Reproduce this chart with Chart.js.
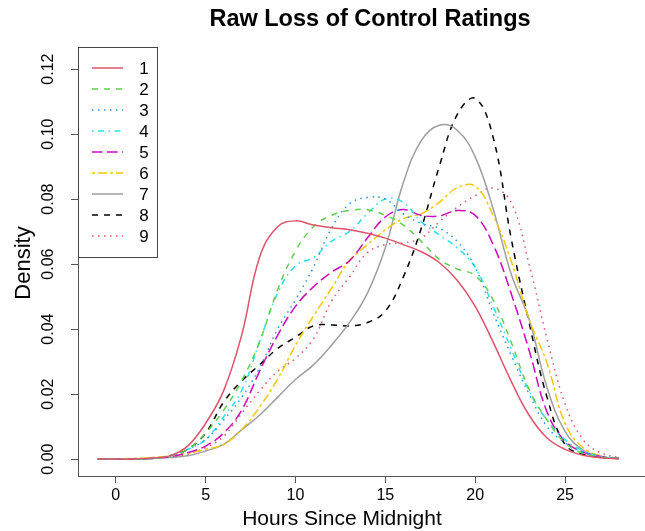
<!DOCTYPE html>
<html>
<head>
<meta charset="utf-8">
<script src="https://cdn.jsdelivr.net/npm/chart.js@4.4.1/dist/chart.umd.min.js"></script>
<style>
  body { margin: 0; background: #fff; }
  #wrap { width: 645px; height: 531px; }
</style>
</head>
<body>
<div id="wrap"><canvas id="myChart" width="645" height="531"></canvas></div>
<script>
// data (density by hour)
const hours = [-1, 0, 1, 2, 3, 4, 5, 6, 7, 8, 9, 10, 11, 12, 13, 14, 15, 16, 17, 18, 19, 20, 21, 22, 23, 24, 25, 26, 27, 28];
const s1 = [0, 0, 0, 0.0003, 0.001, 0.004, 0.011, 0.021, 0.038, 0.062, 0.0715, 0.0733, 0.072, 0.0712, 0.0706, 0.0695, 0.068, 0.066, 0.0638, 0.0605, 0.055, 0.047, 0.036, 0.024, 0.0135, 0.0065, 0.003, 0.0012, 0.0004, 0.0001];
const s2 = [0, 0, 0, 0.0002, 0.001, 0.003, 0.008, 0.015, 0.024, 0.036, 0.052, 0.064, 0.0715, 0.075, 0.0765, 0.0767, 0.075, 0.072, 0.067, 0.0615, 0.0585, 0.0565, 0.049, 0.036, 0.0215, 0.012, 0.005, 0.0018, 0.0006, 0.0002];
const s3 = [0, 0, 0, 0.0002, 0.001, 0.003, 0.006, 0.012, 0.019, 0.028, 0.040, 0.049, 0.059, 0.071, 0.0785, 0.0805, 0.080, 0.0755, 0.0725, 0.071, 0.067, 0.059, 0.045, 0.032, 0.020, 0.010, 0.005, 0.0022, 0.0008, 0.0002];
const s4 = [0, 0, 0, 0.0002, 0.001, 0.003, 0.006, 0.013, 0.021, 0.036, 0.051, 0.0595, 0.062, 0.067, 0.070, 0.0755, 0.080, 0.079, 0.073, 0.069, 0.065, 0.059, 0.047, 0.034, 0.021, 0.012, 0.006, 0.0025, 0.0008, 0.0002];
const s5 = [0, 0, 0, 0.0002, 0.0007, 0.002, 0.004, 0.008, 0.015, 0.027, 0.038, 0.047, 0.053, 0.0575, 0.061, 0.068, 0.0745, 0.0768, 0.075, 0.0748, 0.0765, 0.075, 0.066, 0.051, 0.0335, 0.0145, 0.0055, 0.0022, 0.0008, 0.0002];
const s6 = [0, 0.0001, 0.0002, 0.0005, 0.001, 0.0018, 0.003, 0.0045, 0.009, 0.016, 0.0245, 0.035, 0.044, 0.0525, 0.061, 0.066, 0.0705, 0.074, 0.0755, 0.079, 0.0835, 0.084, 0.075, 0.061, 0.043, 0.0295, 0.011, 0.0035, 0.001, 0.0002];
const s7 = [0, 0, 0.0001, 0.0002, 0.0005, 0.001, 0.0025, 0.0045, 0.009, 0.0135, 0.019, 0.0245, 0.029, 0.035, 0.042, 0.051, 0.065, 0.085, 0.098, 0.1027, 0.1012, 0.093, 0.077, 0.057, 0.043, 0.022, 0.0085, 0.0028, 0.0008, 0.0002];
const s8 = [0, 0, 0.0001, 0.0003, 0.001, 0.003, 0.008, 0.0175, 0.024, 0.029, 0.034, 0.0375, 0.041, 0.0413, 0.041, 0.042, 0.0455, 0.056, 0.071, 0.090, 0.106, 0.111, 0.099, 0.068, 0.042, 0.019, 0.0045, 0.0015, 0.0005, 0.0002];
const s9 = [0, 0, 0.0001, 0.0002, 0.0006, 0.0015, 0.0035, 0.007, 0.014, 0.021, 0.027, 0.031, 0.037, 0.0485, 0.056, 0.0635, 0.066, 0.0665, 0.068, 0.073, 0.0775, 0.081, 0.0834, 0.079, 0.060, 0.037, 0.017, 0.006, 0.0019, 0.0005];
const seriesNames = ['1', '2', '3', '4', '5', '6', '7', '8', '9'];
const xTicks = [0, 5, 10, 15, 20, 25];
const yTicks = [0, 0.02, 0.04, 0.06, 0.08, 0.10, 0.12];

const allSeries = [s1, s2, s3, s4, s5, s6, s7, s8, s9];
const colors = ['#DF536B', '#61D04F', '#2297E6', '#28E2E5', '#CD0BBC', '#F5C710', '#9E9E9E', '#000000', '#DF536B'];
// R line types: solid, dashed, dotted, dotdash, longdash, twodash
const dashes = [[], [6, 6], [1.5, 4.5], [1.5, 4.5, 6, 4.5], [10.5, 4.5], [3, 3, 9, 3], [], [6, 6], [1.5, 4.5]];
const FONT = '"Liberation Sans", Arial, sans-serif';

const datasets = allSeries.map((s, i) => ({
  label: seriesNames[i],
  data: hours.map((h, j) => ({ x: h, y: s[j] })),
  borderColor: colors[i],
  borderWidth: 1.5,
  borderDash: dashes[i],
  pointRadius: 0,
  fill: false,
  tension: 0.4
}));

/* ======================================
        TEXT + LEGEND (R style)
========================================*/
const rStyle = {
  id: 'rStyle',
  afterDraw(chart) {
    const ctx = chart.ctx;
    const ys = chart.scales.y;
    ctx.save();
    ctx.fillStyle = '#000';
    ctx.textAlign = 'center';
    ctx.textBaseline = 'middle';

    ctx.font = 'bold 23.5px ' + FONT;
    ctx.fillText('Raw Loss of Control Ratings', 370, 20);

    ctx.font = '21px ' + FONT;
    ctx.fillText('Hours Since Midnight', 342, 519);

    // y tick labels, rotated like R
    ctx.font = '16px ' + FONT;
    yTicks.forEach(v => {
      ctx.save();
      ctx.translate(49, ys.getPixelForValue(v));
      ctx.rotate(-Math.PI / 2);
      ctx.fillText(v.toFixed(2), 0, 0);
      ctx.restore();
    });

    ctx.save();
    ctx.font = '22px ' + FONT;
    ctx.translate(24, 263);
    ctx.rotate(-Math.PI / 2);
    ctx.fillText('Density', 0, 0);
    ctx.restore();

    // legend box
    ctx.fillStyle = '#fff';
    ctx.fillRect(78, 47, 79, 210);
    ctx.strokeStyle = '#444';
    ctx.lineWidth = 1;
    ctx.setLineDash([]);
    ctx.strokeRect(78.5, 47.5, 79, 210);
    ctx.font = '17px ' + FONT;
    seriesNames.forEach((n, i) => {
      const y = 68 + i * 21;
      ctx.beginPath();
      ctx.strokeStyle = colors[i];
      ctx.lineWidth = 1.5;
      ctx.setLineDash(dashes[i]);
      ctx.moveTo(92, y);
      ctx.lineTo(123, y);
      ctx.stroke();
      ctx.fillStyle = '#000';
      ctx.fillText(n, 144, y + 1);
    });
    ctx.restore();
  }
};

let myChart = new Chart(document.getElementById('myChart'), {
  type: 'line',
  data: { datasets: datasets },
  plugins: [rStyle],
  options: {
    responsive: false,
    devicePixelRatio: 1,
    animation: false,
    layout: { padding: { top: 47, right: 0, bottom: 0, left: 0 } },
    plugins: { legend: { display: false }, tooltip: { enabled: false } },
    scales: {
      x: {
        type: 'linear',
        min: -2.1,
        max: 29.45,
        afterBuildTicks: s => { s.ticks = xTicks.map(v => ({ value: v })); },
        afterFit: s => { s.height = 55; },
        grid: { drawOnChartArea: false, tickLength: 7, color: '#555' },
        border: { display: true, color: '#555', width: 1 },
        ticks: {
          color: '#000',
          padding: 3,
          maxRotation: 0,
          autoSkip: false,
          font: { family: FONT, size: 16 }
        }
      },
      y: {
        type: 'linear',
        min: -0.0052,
        max: 0.1268,
        afterBuildTicks: s => { s.ticks = yTicks.map(v => ({ value: v })); },
        afterFit: s => { s.width = 78; },
        grid: { drawOnChartArea: false, tickLength: 7, color: '#555' },
        border: { display: true, color: '#555', width: 1 },
        ticks: { display: false }
      }
    }
  }
});
</script>
</body>
</html>
